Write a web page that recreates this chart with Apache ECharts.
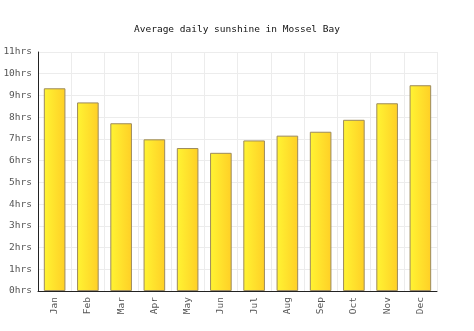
<!DOCTYPE html>
<html>
<head>
<meta charset="utf-8">
<script src="https://cdn.jsdelivr.net/npm/echarts@6/dist/echarts.min.js"></script>
<style>
  html, body { margin: 0; padding: 0; background: #fff; }
  #chart { width: 474px; height: 331px; }
</style>
</head>
<body>
<div id="chart"></div>
<script>
// Average daily sunshine hours per month
const months = ['Jan', 'Feb', 'Mar', 'Apr', 'May', 'Jun', 'Jul', 'Aug', 'Sep', 'Oct', 'Nov', 'Dec'];
const sunshineHours = [9.33, 8.68, 7.72, 6.98, 6.58, 6.36, 6.93, 7.15, 7.33, 7.88, 8.64, 9.47];
const yTicks = [0, 1, 2, 3, 4, 5, 6, 7, 8, 9, 10, 11];

const font = '"DejaVu Sans Mono", "Liberation Mono", monospace';
const chart = echarts.init(document.getElementById('chart'));

chart.setOption({
  animation: false,
  title: {
    text: 'Average daily sunshine in Mossel Bay',
    left: 'center',
    top: 20,
    textStyle: { fontFamily: font, fontSize: 9.5, fontWeight: 'normal', color: '#111' }
  },
  grid: { left: 38, right: 37, top: 52, bottom: 40, containLabel: false },
  xAxis: {
    type: 'category',
    data: months,
    boundaryGap: true,
    axisLine: { lineStyle: { color: '#222', width: 1 } },
    axisTick: { show: false },
    splitLine: { show: true, interval: 0, lineStyle: { color: '#ececec' } },
    axisLabel: {
      rotate: 90,
      interval: 0,
      margin: 6,
      fontFamily: font,
      fontSize: 9.5,
      color: '#555'
    }
  },
  yAxis: {
    type: 'value',
    min: yTicks[0],
    max: yTicks[yTicks.length - 1],
    interval: 1,
    axisLine: { show: true, lineStyle: { color: '#222', width: 1 } },
    axisTick: { show: false },
    splitLine: { lineStyle: { color: '#ececec' } },
    axisLabel: {
      margin: 6,
      fontFamily: font,
      fontSize: 9.5,
      color: '#555',
      formatter: v => v + 'hrs'
    }
  },
  series: [{
    type: 'bar',
    data: sunshineHours,
    barWidth: '65%',
    itemStyle: {
      color: new echarts.graphic.LinearGradient(0, 0, 1, 0, [
        { offset: 0, color: '#fff433' },
        { offset: 1, color: '#ffcf26' }
      ]),
      borderColor: '#9c8a5c',
      borderWidth: 1
    }
  }]
});
</script>
</body>
</html>
